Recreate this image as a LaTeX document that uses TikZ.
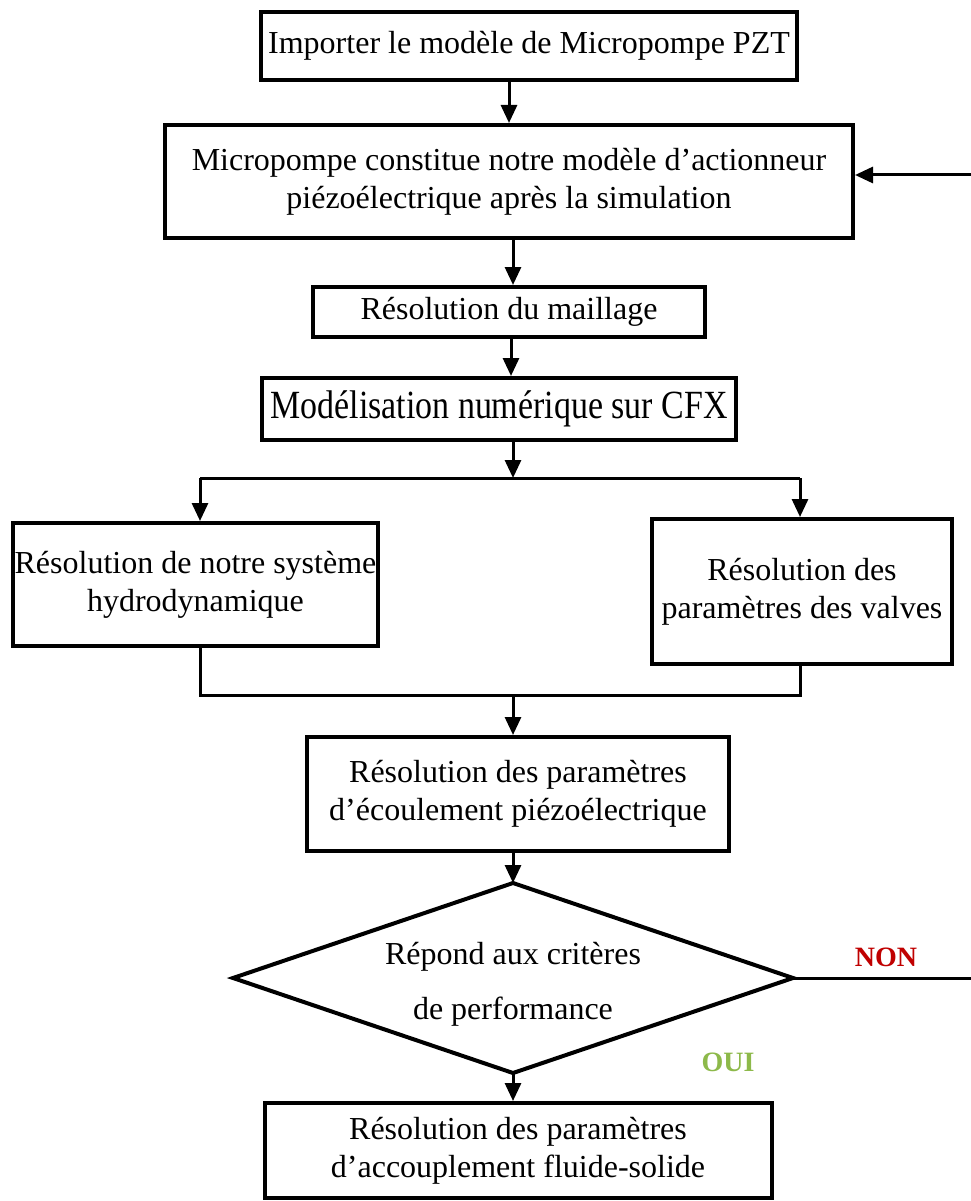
\documentclass[tikz,border=0pt]{standalone}
\usepackage{fontspec}
\usepackage{graphicx}
\setmainfont{Liberation Serif}
\usetikzlibrary{arrows.meta}
\definecolor{nonred}{HTML}{C00000}
\definecolor{ouigreen}{HTML}{8DB94A}
\begin{document}
\begin{tikzpicture}[x=1pt,y=-1pt,
  stepbox/.style={draw, line width=4pt, rectangle, align=center, inner sep=0pt,
    font=\fontsize{32}{38}\selectfont},
  link/.style={line width=3pt},
  arr/.style={link, -{Triangle[length=18pt,width=16pt]}},
  answer/.style={font=\fontsize{28}{32}\selectfont\bfseries}]
\useasboundingbox (0,0) rectangle (970,1201);
\fill[white] (0,0) rectangle (970,1201);

% process steps
\node[stepbox, minimum width=536pt, minimum height=68pt] (b1) at (529,46)
  {Importer le modèle de Micropompe PZT};
\node[stepbox, minimum width=688pt, minimum height=113pt] (b2) at (509,181.5)
  {Micropompe constitue notre modèle d’actionneur\\piézoélectrique après la simulation};
\node[stepbox, minimum width=392pt, minimum height=50pt] (b3) at (509,312)
  {Résolution du maillage};
\node[stepbox, minimum width=474pt, minimum height=62pt] (b4) at (499,409)
  {\scalebox{1.06}[1.25]{Modélisation numérique sur CFX}};
\node[stepbox, minimum width=365pt, minimum height=123pt] (b5) at (195.5,584.5)
  {Résolution de notre système\\hydrodynamique};
\node[stepbox, minimum width=300pt, minimum height=145pt] (b6) at (802,591.5)
  {Résolution des\\paramètres des valves};
\node[stepbox, minimum width=422pt, minimum height=114pt] (b7) at (518,794)
  {Résolution des paramètres\\d’écoulement piézoélectrique};
\node[stepbox, minimum width=507pt, minimum height=95pt] (b8) at (518,1150.5)
  {Résolution des paramètres\\d’accouplement fluide-solide};

% decision diamond
\coordinate (dt) at (513,883);
\coordinate (dl) at (233,978);
\coordinate (dr) at (793,978);
\coordinate (db) at (513,1073);
\draw[line width=4pt, line join=miter] (dt) -- (dr) -- (db) -- (dl) -- cycle;
\node[align=center, font=\fontsize{32}{38}\selectfont] (dq) at (513,984)
  {Répond aux critères\\[17pt]de performance};

\node[answer, text=nonred] (non) at (886,957) {NON};
\node[answer, text=ouigreen] (oui) at (728,1062) {OUI};

% split and merge points
\coordinate (split) at (513,478);
\coordinate (sl) at (200,478);
\coordinate (sr) at (800,478);
\coordinate (ml) at (200,695);
\coordinate (mr) at (800,695);
\coordinate (merge) at (513,695);
\coordinate (back) at (985,978);

% connectors
\draw[arr] (b1.south -| b2.north) -- (b2.north);
\draw[arr] ([xshift=4pt]b2.south) -- ([xshift=4pt]b2.south |- b3.north);
\draw[arr] ([xshift=2pt]b3.south) -- ([xshift=2pt]b3.south |- b4.north);
\draw[arr] (b4.south -| split) -- (split);
\draw[link] (sl) -- (sr);
\draw[arr] (sl) -- (sl |- b5.north);
\draw[arr] (sr) -- (sr |- b6.north);
\draw[link] (ml |- b5.south) -- (ml) -- (mr) -- (mr |- b6.south);
\draw[arr] (merge) -- (merge |- b7.north);
\draw[arr] (b7.south -| dt) -- (dt);
\draw[arr] (db) -- (db |- b8.north);
\draw[arr] (dr) -- (back) |- ([yshift=6.5pt]b2.east);
\end{tikzpicture}
\end{document}
